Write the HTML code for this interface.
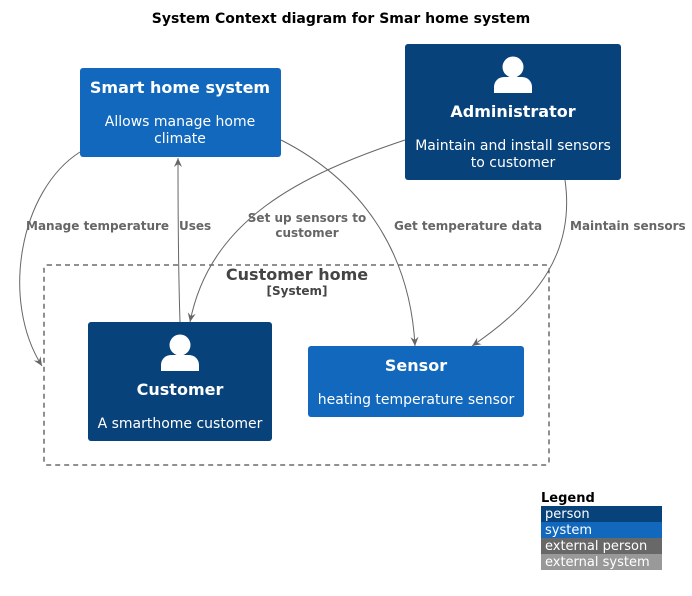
<!DOCTYPE html>
<html><head><meta charset="utf-8"><style>
body{margin:0;background:#fff}
svg{display:block;font-family:"DejaVu Sans","Liberation Sans",sans-serif}
</style></head><body>
<svg width="692" height="596" viewBox="0 0 692 596" xmlns="http://www.w3.org/2000/svg">
<defs><marker id="a" markerWidth="10" markerHeight="10" refX="9" refY="4" orient="auto" markerUnits="userSpaceOnUse"><path d="M0,0 L9,4 L0,8 L3,4 Z" fill="#666"/></marker></defs>
<text x="341" y="23" text-anchor="middle" font-size="14" font-weight="bold">System Context diagram for Smar home system</text>

<rect x="44" y="265" width="505" height="200" rx="3" fill="none" stroke="#222" stroke-dasharray="5,4"/>
<text x="297" y="280" text-anchor="middle" font-size="16" font-weight="bold" fill="#444">Customer home</text>
<text x="297" y="295" text-anchor="middle" font-size="12" font-weight="bold" fill="#444">[System]</text>

<rect x="80" y="68" width="201" height="89" rx="3" fill="#1168BD"/>
<text x="180" y="93" text-anchor="middle" font-size="16" font-weight="bold" fill="#fff">Smart home system</text>
<text x="180" y="126" text-anchor="middle" font-size="14" fill="#fff">Allows manage home</text>
<text x="180" y="143" text-anchor="middle" font-size="14" fill="#fff">climate</text>

<rect x="405" y="44" width="216" height="136" rx="3" fill="#08427B"/>
<circle cx="513" cy="67" r="10.5" fill="#fff"/>
<path d="M494,93 v-6 a10,10 0 0 1 10,-10 h18 a10,10 0 0 1 10,10 v6 Z" fill="#fff"/>
<text x="513" y="117" text-anchor="middle" font-size="16" font-weight="bold" fill="#fff">Administrator</text>
<text x="513" y="150" text-anchor="middle" font-size="14" fill="#fff">Maintain and install sensors</text>
<text x="513" y="167" text-anchor="middle" font-size="14" fill="#fff">to customer</text>

<rect x="88" y="322" width="184" height="119" rx="3" fill="#08427B"/>
<circle cx="180" cy="345" r="10.5" fill="#fff"/>
<path d="M161,371 v-6 a10,10 0 0 1 10,-10 h18 a10,10 0 0 1 10,10 v6 Z" fill="#fff"/>
<text x="180" y="395" text-anchor="middle" font-size="16" font-weight="bold" fill="#fff">Customer</text>
<text x="180" y="428" text-anchor="middle" font-size="14" fill="#fff">A smarthome customer</text>

<rect x="308" y="346" width="216" height="71" rx="3" fill="#1168BD"/>
<text x="416" y="371" text-anchor="middle" font-size="16" font-weight="bold" fill="#fff">Sensor</text>
<text x="416" y="404" text-anchor="middle" font-size="14" fill="#fff">heating temperature sensor</text>

<g fill="none" stroke="#666" stroke-width="1">
<path d="M80,152 C20,190 0,300 42,366" marker-end="url(#a)"/>
<path d="M180,322 C178,260 178,200 178,158" marker-end="url(#a)"/>
<path d="M405,140 C300,175 210,220 190,322" marker-end="url(#a)"/>
<path d="M281,140 C360,180 410,250 415,346" marker-end="url(#a)"/>
<path d="M565,180 C575,250 540,300 472,346" marker-end="url(#a)"/>
</g>
<g font-size="12" font-weight="bold" fill="#666">
<text x="26" y="230">Manage temperature</text>
<text x="179" y="230">Uses</text>
<text x="307" y="222" text-anchor="middle">Set up sensors to</text>
<text x="307" y="237" text-anchor="middle">customer</text>
<text x="394" y="230">Get temperature data</text>
<text x="570" y="230">Maintain sensors</text>
</g>

<text x="541" y="502" font-size="13" font-weight="bold">Legend</text>
<rect x="541" y="506" width="121" height="16" fill="#08427B"/>
<rect x="541" y="522" width="121" height="16" fill="#1168BD"/>
<rect x="541" y="538" width="121" height="16" fill="#686868"/>
<rect x="541" y="554" width="121" height="16" fill="#999"/>
<g font-size="13" fill="#fff">
<text x="545" y="518">person</text>
<text x="545" y="534">system</text>
<text x="545" y="550">external person</text>
<text x="545" y="566">external system</text>
</g>
</svg>
</body></html>
